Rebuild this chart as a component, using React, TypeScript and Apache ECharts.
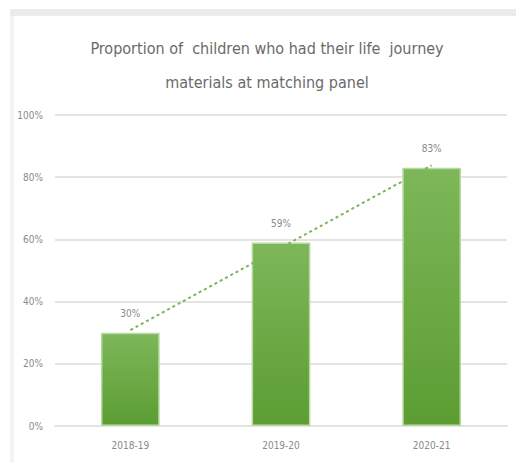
import React, { useEffect, useRef } from "react";
import * as echarts from "echarts";

const categories = ["2018-19", "2019-20", "2020-21"];
const proportions = [30, 59, 83];
const yTicks = [0, 20, 40, 60, 80, 100];
const titleLines = ["Proportion of  children who had their life  journey", "materials at matching panel"];

function linearTrend(vals: number[]): number[] {
  const n = vals.length;
  const xs = vals.map((_, i) => i + 1);
  const mx = xs.reduce((a, b) => a + b, 0) / n;
  const my = vals.reduce((a, b) => a + b, 0) / n;
  let num = 0, den = 0;
  for (let i = 0; i < n; i++) { num += (xs[i] - mx) * (vals[i] - my); den += (xs[i] - mx) ** 2; }
  const k = num / den;
  return xs.map((x) => +(my + k * (x - mx)).toFixed(2));
}

const FONT = "'Liberation Sans Narrow', 'Arial Narrow', 'DejaVu Sans Condensed', 'Liberation Sans', sans-serif";

export default function App() {
  const ref = useRef<HTMLDivElement>(null);
  useEffect(() => {
    if (!ref.current) return;
    const chart = echarts.init(ref.current, null, { renderer: "svg" });
    chart.setOption({
      animation: false,
      backgroundColor: "#ffffff",
      title: {
        text: titleLines.join("\n"),
        left: 262,
        textAlign: "center",
        top: 26,
        textStyle: { fontFamily: FONT, fontSize: 16, fontWeight: "normal", color: "#6a6a6a", lineHeight: 34 },
      },
      graphic: [
        { type: "rect", left: 10, top: 9, shape: { width: 506, height: 7 }, style: { fill: "#ebebeb" }, silent: true },
        { type: "rect", left: 10, top: 16, shape: { width: 4, height: 447 }, style: { fill: "#f4f4f4" }, silent: true },
      ],
      grid: { left: 55, right: 9, top: 115, bottom: 37 },
      xAxis: {
        type: "category",
        data: categories,
        axisLine: { show: true, lineStyle: { color: "#e4e4e4", width: 2 } },
        axisTick: { show: false },
        axisLabel: { fontFamily: FONT, fontSize: 10, color: "#8a8a8a", margin: 14 },
      },
      yAxis: {
        type: "value",
        min: yTicks[0],
        max: yTicks[yTicks.length - 1],
        interval: 20,
        axisLine: { show: false },
        axisTick: { show: false },
        splitLine: { lineStyle: { color: "#e4e4e4", width: 2 } },
        axisLabel: { formatter: "{value}%", fontFamily: FONT, fontSize: 10, color: "#8a8a8a", margin: 12 },
      },
      series: [
        {
          type: "bar",
          data: proportions,
          barWidth: "39%",
          itemStyle: {
            color: new echarts.graphic.LinearGradient(0, 0, 0, 1, [
              { offset: 0, color: "#7db759" },
              { offset: 1, color: "#5c9d33" },
            ]),
            borderColor: "#b9d9a3",
            borderWidth: 1.5,
          },
          label: {
            show: true,
            position: "top",
            distance: 14,
            formatter: "{c}%",
            fontFamily: FONT,
            fontSize: 10,
            color: "#8a8a8a",
          },
          z: 2,
        },
        {
          type: "line",
          data: linearTrend(proportions),
          symbol: "none",
          lineStyle: { color: "#7cb45a", width: 2, type: [3, 3] },
          z: 3,
        },
      ],
    });
    return () => chart.dispose();
  }, []);
  return <div ref={ref} style={{ position: "fixed", left: 0, top: 0, width: 516, height: 463 }} />;
}
